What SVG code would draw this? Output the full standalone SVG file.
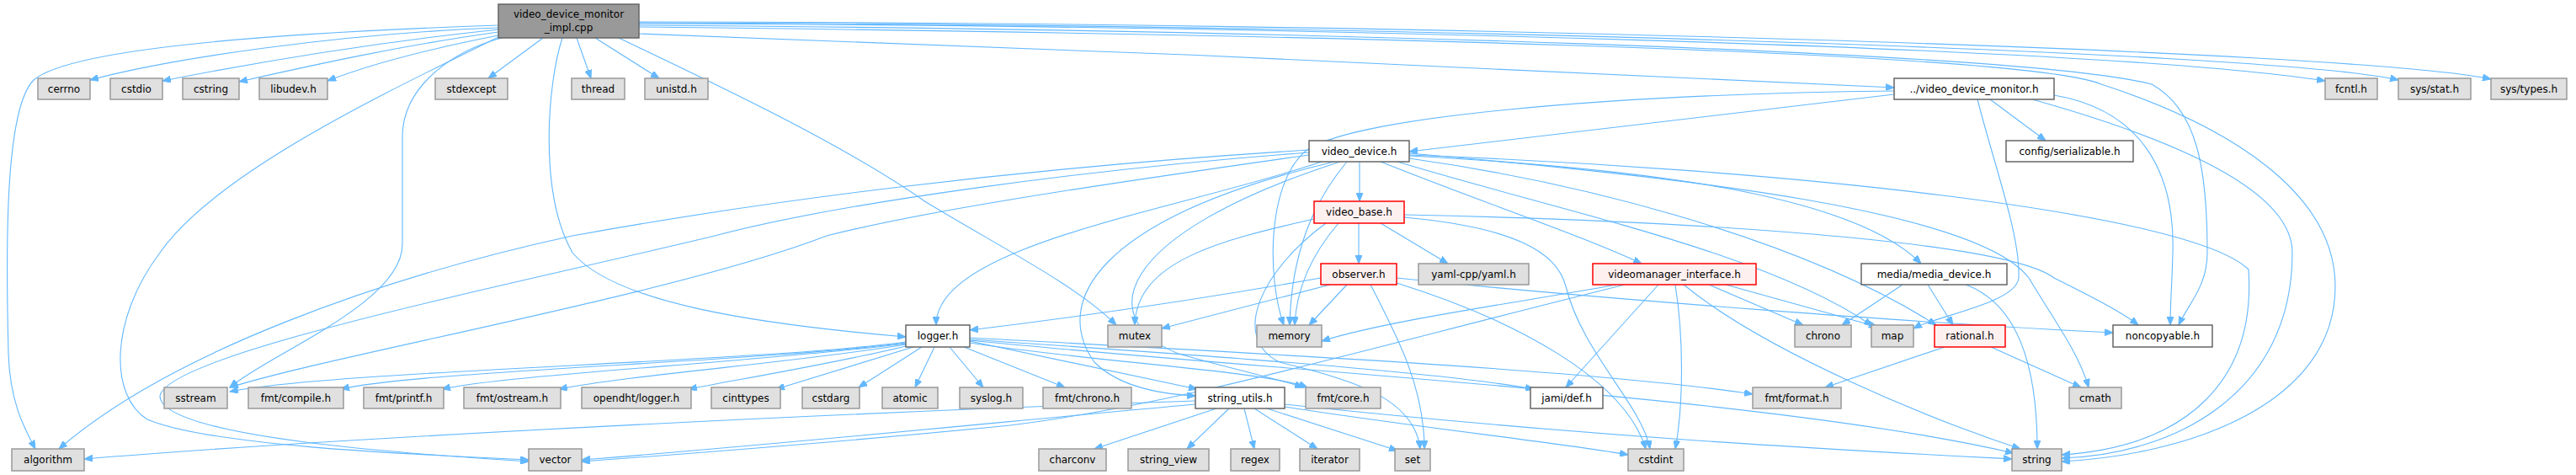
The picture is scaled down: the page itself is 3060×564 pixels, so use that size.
<svg xmlns="http://www.w3.org/2000/svg" width="3060" height="564" viewBox="0 0 3060 564">
<style>
text{font-family:"DejaVu Sans","Liberation Sans",sans-serif;font-size:12px;fill:#000;text-anchor:middle}
.g rect{fill:#e0e0e0;stroke:#999999;stroke-width:1.5}
.w rect{fill:#ffffff;stroke:#666666;stroke-width:1.5}
.r rect{fill:#fff0f0;stroke:#ff0000;stroke-width:1.5}
.root rect{fill:#999999;stroke:#666666;stroke-width:1.5}
#edges path{fill:none;stroke:#63b8ff;stroke-width:1.1;marker-end:url(#ah)}
</style>
<defs>
<marker id="ah" markerWidth="11" markerHeight="8" refX="10" refY="4" orient="auto" markerUnits="userSpaceOnUse">
<path d="M0,0 L10,4 L0,8 z" fill="#63b8ff" stroke="#63b8ff"/>
</marker>
</defs>
<rect width="3060" height="564" fill="#ffffff"/>
<g id="edges">
<path d="M592,33 C400,40 200,70 107,95"/>
<path d="M592,35 C450,50 300,75 193,96"/>
<path d="M592,38 C470,55 360,80 284,97"/>
<path d="M592,42 C500,60 430,80 389,96"/>
<path d="M645,45 L580,93"/>
<path d="M685,45 L702,93"/>
<path d="M707,45 L783,93"/>
<path d="M592,30 C300,40 80,60 40,95 C5,130 7,300 10,420 C12,480 30,510 42,533"/>
<path d="M594,43 C480,100 260,200 190,300 C130,380 130,470 175,498 C250,530 500,540 628,546"/>
<path d="M596,45 C540,60 480,100 478,160 C478,200 478,250 478,290 C478,360 320,420 273,460"/>
<path d="M668,45 C650,100 640,230 680,300 C730,360 900,385 1076,400"/>
<path d="M735,45 C850,100 1000,170 1100,240 C1200,300 1280,340 1326,386"/>
<path d="M759,40 C1200,55 1900,85 2250,104"/>
<path d="M759,28 C1500,30 2500,55 2762,96"/>
<path d="M759,27 C1600,28 2700,60 2849,95"/>
<path d="M759,26 C1700,26 2800,60 2959,94"/>
<path d="M759,30 C1500,35 2400,60 2556,100 C2610,130 2622,200 2622,300 C2622,340 2600,360 2588,386"/>
<path d="M759,32 C1500,40 2400,60 2496,100 C2650,150 2774,230 2774,340 C2774,480 2600,540 2449,548"/>
<path d="M2250,112 C2000,140 1800,165 1674,180"/>
<path d="M2250,108 C1900,112 1600,140 1550,180 C1505,220 1505,330 1525,386"/>
<path d="M2364,118 L2430,167"/>
<path d="M2349,118 C2370,200 2400,280 2398,330 C2395,360 2300,375 2273,390"/>
<path d="M2440,113 C2540,130 2584,200 2581,300 C2580,340 2578,360 2578,386"/>
<path d="M2414,118 C2600,170 2723,230 2723,300 C2723,470 2580,540 2449,544"/>
<path d="M1615,192 L1615,239"/>
<path d="M1570,192 C1400,250 1112,290 1112,386"/>
<path d="M1555,178 C1200,200 900,240 680,280 C450,330 200,420 70,533"/>
<path d="M1555,181 C1300,200 1000,240 849,280 C600,340 200,420 190,470 C190,520 500,540 628,548"/>
<path d="M1555,184 C1300,220 1100,250 982,280 C800,350 400,420 273,460"/>
<path d="M1585,192 C1300,260 1250,360 1300,430 C1330,460 1380,468 1420,470"/>
<path d="M1592,192 C1320,280 1300,380 1400,420 C1470,440 1520,450 1548,460"/>
<path d="M1674,185 C1950,200 2200,230 2282,313"/>
<path d="M1674,188 C1900,220 2150,290 2300,386"/>
<path d="M1640,192 C1760,240 1880,280 1950,313"/>
<path d="M1674,182 C2000,210 2350,250 2410,330 C2440,380 2470,420 2481,460"/>
<path d="M1660,192 C1850,250 2100,300 2224,387"/>
<path d="M1600,192 C1560,240 1534,300 1532,386"/>
<path d="M1674,184 C2100,200 2600,250 2671,320 C2680,450 2600,530 2449,540"/>
<path d="M1614,265 L1614,313"/>
<path d="M1640,265 L1720,313"/>
<path d="M1590,265 C1560,300 1540,340 1538,386"/>
<path d="M1561,260 C1450,285 1350,310 1348,386"/>
<path d="M1575,265 C1500,320 1460,400 1520,430 C1600,450 1680,470 1687,533"/>
<path d="M1668,258 C1800,270 1850,300 1860,340 C1880,420 1950,480 1960,533"/>
<path d="M1668,255 C2000,262 2380,285 2440,330 C2480,350 2520,370 2540,386"/>
<path d="M1569,330 C1400,360 1250,380 1152,392"/>
<path d="M1580,338 L1380,390"/>
<path d="M1600,338 L1555,386"/>
<path d="M1628,338 C1660,400 1692,460 1692,533"/>
<path d="M1659,336 C1800,380 1930,450 1955,533"/>
<path d="M1659,330 C1900,355 2300,385 2510,395"/>
<path d="M1920,338 C1800,360 1650,380 1570,405"/>
<path d="M1930,338 C1600,420 1400,480 1200,505 C1000,525 800,540 691,548"/>
<path d="M1970,338 L1860,460"/>
<path d="M1990,338 C2000,400 2000,480 1990,533"/>
<path d="M2030,338 L2142,386"/>
<path d="M2050,338 L2230,388"/>
<path d="M2000,338 C2100,420 2300,500 2400,533"/>
<path d="M2260,338 L2188,386"/>
<path d="M2290,338 L2320,386"/>
<path d="M2335,338 C2395,360 2420,430 2420,533"/>
<path d="M2310,412 L2168,460"/>
<path d="M2365,412 L2472,460"/>
<path d="M1076,406 C900,430 400,440 273,465"/>
<path d="M1076,407 C900,430 500,440 405,462"/>
<path d="M1076,408 C900,430 600,445 525,462"/>
<path d="M1076,409 C950,430 750,445 664,462"/>
<path d="M1080,410 C1000,430 880,450 818,462"/>
<path d="M1085,412 L922,462"/>
<path d="M1095,412 L1020,460"/>
<path d="M1110,412 L1087,460"/>
<path d="M1128,412 L1168,460"/>
<path d="M1145,412 L1265,460"/>
<path d="M1152,405 L1422,462"/>
<path d="M1152,407 C1300,430 1500,440 1553,460"/>
<path d="M1152,403 C1400,420 1700,440 1822,462"/>
<path d="M1152,401 C1500,420 1900,440 2082,468"/>
<path d="M1152,404 C1500,440 2100,470 2392,538"/>
<path d="M1420,476 C1000,490 400,520 100,545"/>
<path d="M1420,480 C1200,500 900,530 691,546"/>
<path d="M1445,485 L1300,533"/>
<path d="M1460,485 L1410,533"/>
<path d="M1478,485 L1490,533"/>
<path d="M1490,485 L1565,533"/>
<path d="M1505,485 L1660,535"/>
<path d="M1526,483 C1700,510 1850,525 1934,540"/>
<path d="M1526,480 C1900,520 2200,535 2390,545"/>
</g>
<g id="n_root" class="root"><rect x="592" y="5" width="167" height="40"/><text x="675.5" y="21">video_device_monitor</text><text x="675.5" y="37">_impl.cpp</text></g>
<g id="n_cerrno" class="g"><rect x="45" y="93" width="62" height="25"/><text x="76" y="110">cerrno</text></g>
<g id="n_cstdio" class="g"><rect x="131" y="93" width="62" height="25"/><text x="162" y="110">cstdio</text></g>
<g id="n_cstring" class="g"><rect x="217" y="93" width="67" height="25"/><text x="250.5" y="110">cstring</text></g>
<g id="n_libudev" class="g"><rect x="308" y="93" width="81" height="25"/><text x="348.5" y="110">libudev.h</text></g>
<g id="n_stdexcept" class="g"><rect x="517" y="93" width="86" height="25"/><text x="560" y="110">stdexcept</text></g>
<g id="n_thread" class="g"><rect x="679" y="93" width="63" height="25"/><text x="710.5" y="110">thread</text></g>
<g id="n_unistd" class="g"><rect x="766" y="93" width="75" height="25"/><text x="803.5" y="110">unistd.h</text></g>
<g id="n_vdm" class="w"><rect x="2250" y="93" width="190" height="25"/><text x="2345" y="110">../video_device_monitor.h</text></g>
<g id="n_fcntl" class="g"><rect x="2762" y="93" width="62" height="25"/><text x="2793" y="110">fcntl.h</text></g>
<g id="n_sysstat" class="g"><rect x="2849" y="93" width="86" height="25"/><text x="2892" y="110">sys/stat.h</text></g>
<g id="n_systypes" class="g"><rect x="2959" y="93" width="90" height="25"/><text x="3004" y="110">sys/types.h</text></g>
<g id="n_video_device" class="w"><rect x="1555" y="167" width="119" height="25"/><text x="1614.5" y="184">video_device.h</text></g>
<g id="n_serializable" class="w"><rect x="2383" y="167" width="151" height="25"/><text x="2458.5" y="184">config/serializable.h</text></g>
<g id="n_video_base" class="r"><rect x="1561" y="239" width="107" height="26"/><text x="1614.5" y="256">video_base.h</text></g>
<g id="n_observer" class="r"><rect x="1569" y="313" width="90" height="25"/><text x="1614" y="330">observer.h</text></g>
<g id="n_yaml" class="g"><rect x="1685" y="313" width="131" height="25"/><text x="1750.5" y="330">yaml-cpp/yaml.h</text></g>
<g id="n_vmi" class="r"><rect x="1892" y="313" width="194" height="25"/><text x="1989" y="330">videomanager_interface.h</text></g>
<g id="n_media_device" class="w"><rect x="2211" y="313" width="173" height="25"/><text x="2297.5" y="330">media/media_device.h</text></g>
<g id="n_logger" class="w"><rect x="1076" y="386" width="76" height="26"/><text x="1114" y="403">logger.h</text></g>
<g id="n_mutex" class="g"><rect x="1316" y="386" width="64" height="26"/><text x="1348" y="403">mutex</text></g>
<g id="n_memory" class="g"><rect x="1493" y="386" width="77" height="26"/><text x="1531.5" y="403">memory</text></g>
<g id="n_chrono" class="g"><rect x="2132" y="386" width="67" height="26"/><text x="2165.5" y="403">chrono</text></g>
<g id="n_map" class="g"><rect x="2223" y="386" width="50" height="26"/><text x="2248" y="403">map</text></g>
<g id="n_rational" class="r"><rect x="2298" y="386" width="84" height="26"/><text x="2340" y="403">rational.h</text></g>
<g id="n_noncopyable" class="w"><rect x="2510" y="386" width="118" height="26"/><text x="2569" y="403">noncopyable.h</text></g>
<g id="n_sstream" class="g"><rect x="195" y="460" width="75" height="25"/><text x="232.5" y="477">sstream</text></g>
<g id="n_fmt_compile" class="g"><rect x="295" y="460" width="113" height="25"/><text x="351.5" y="477">fmt/compile.h</text></g>
<g id="n_fmt_printf" class="g"><rect x="432" y="460" width="95" height="25"/><text x="479.5" y="477">fmt/printf.h</text></g>
<g id="n_fmt_ostream" class="g"><rect x="551" y="460" width="115" height="25"/><text x="608.5" y="477">fmt/ostream.h</text></g>
<g id="n_opendht_logger" class="g"><rect x="691" y="460" width="130" height="25"/><text x="756" y="477">opendht/logger.h</text></g>
<g id="n_cinttypes" class="g"><rect x="845" y="460" width="82" height="25"/><text x="886" y="477">cinttypes</text></g>
<g id="n_cstdarg" class="g"><rect x="953" y="460" width="68" height="25"/><text x="987" y="477">cstdarg</text></g>
<g id="n_atomic" class="g"><rect x="1048" y="460" width="66" height="25"/><text x="1081" y="477">atomic</text></g>
<g id="n_syslog" class="g"><rect x="1140" y="460" width="75" height="25"/><text x="1177.5" y="477">syslog.h</text></g>
<g id="n_fmt_chrono" class="g"><rect x="1239" y="460" width="105" height="25"/><text x="1291.5" y="477">fmt/chrono.h</text></g>
<g id="n_string_utils" class="w"><rect x="1420" y="460" width="106" height="25"/><text x="1473" y="477">string_utils.h</text></g>
<g id="n_fmt_core" class="g"><rect x="1551" y="460" width="89" height="25"/><text x="1595.5" y="477">fmt/core.h</text></g>
<g id="n_jami_def" class="w"><rect x="1818" y="460" width="86" height="25"/><text x="1861" y="477">jami/def.h</text></g>
<g id="n_fmt_format" class="g"><rect x="2082" y="460" width="105" height="25"/><text x="2134.5" y="477">fmt/format.h</text></g>
<g id="n_cmath" class="g"><rect x="2458" y="460" width="62" height="25"/><text x="2489" y="477">cmath</text></g>
<g id="n_algorithm" class="g"><rect x="14" y="533" width="86" height="26"/><text x="57" y="550">algorithm</text></g>
<g id="n_vector" class="g"><rect x="628" y="533" width="63" height="26"/><text x="659.5" y="550">vector</text></g>
<g id="n_charconv" class="g"><rect x="1234" y="533" width="80" height="26"/><text x="1274" y="550">charconv</text></g>
<g id="n_string_view" class="g"><rect x="1340" y="533" width="96" height="26"/><text x="1388" y="550">string_view</text></g>
<g id="n_regex" class="g"><rect x="1462" y="533" width="58" height="26"/><text x="1491" y="550">regex</text></g>
<g id="n_iterator" class="g"><rect x="1544" y="533" width="71" height="26"/><text x="1579.5" y="550">iterator</text></g>
<g id="n_set" class="g"><rect x="1657" y="533" width="42" height="26"/><text x="1678" y="550">set</text></g>
<g id="n_cstdint" class="g"><rect x="1934" y="533" width="66" height="26"/><text x="1967" y="550">cstdint</text></g>
<g id="n_string" class="g"><rect x="2390" y="533" width="59" height="26"/><text x="2419.5" y="550">string</text></g>
</svg>
